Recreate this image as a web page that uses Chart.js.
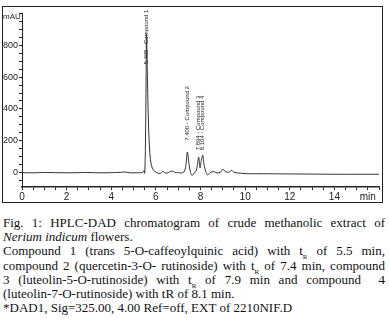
<!DOCTYPE html>
<html>
<head>
<meta charset="utf-8">
<script src="https://cdn.jsdelivr.net/npm/chart.js@4/dist/chart.umd.min.js"></script>
<style>
	body { margin: 0; background: #fff; width: 389px; height: 331px; overflow: hidden; }
	#box { position: absolute; left: 2px; top: 6px; width: 379px; height: 195px; border: 1px solid #222; }
	#wrap { position: absolute; left: -2px; top: 0; width: 381px; height: 195px; }
	#caption { position: absolute; left: 3px; top: 216px; width: 382px; font-family: "Liberation Serif", serif; font-size: 13px; line-height: 14.2px; color: #111; }
	#caption .full { text-align: justify; text-align-last: justify; }
	sub { font-size: 7px; line-height: 0; }
</style>
</head>
<body>
<div id="box"><div id="wrap"><canvas id="chart"></canvas></div></div>
<div id="caption">
	<div class="full">Fig. 1: HPLC-DAD chromatogram of crude methanolic extract of</div>
	<div><i>Nerium indicum</i> flowers.</div>
	<div class="full">Compound 1 (trans 5-O-caffeoylquinic acid) with t<sub>R</sub> of 5.5 min,</div>
	<div class="full">compound 2 (quercetin-3-O- rutinoside) with t<sub>R</sub> of 7.4 min, compound</div>
	<div class="full">3 (luteolin-5-O-rutinoside) with t<sub>R</sub> of 7.9 min and compound &nbsp;4</div>
	<div>(luteolin-7-O-rutinoside) with tR of 8.1 min.</div>
	<div>*DAD1, Sig=325.00, 4.00 Ref=off, EXT of 2210NIF.D</div>
</div>
<script>
// === Data ===

const times = [0, 0.5, 1, 1.5, 2, 2.5, 3, 3.5, 4, 4.4, 4.6, 4.8, 5.0, 5.3, 5.42, 5.47, 5.5,
	5.53, 5.56, 5.58, 5.62, 5.67, 5.73, 5.8, 5.9, 6.0, 6.1, 6.2, 6.3, 6.4, 6.5, 6.6, 6.75, 6.85,
	7.0, 7.15, 7.25, 7.33, 7.41, 7.48, 7.55, 7.62, 7.7, 7.8, 7.86, 7.92, 7.98, 8.03, 8.1, 8.17,
	8.25, 8.32, 8.45, 8.6, 8.75, 8.9, 9.0, 9.1, 9.25, 9.4, 9.5, 9.7, 10, 11, 12, 13, 14, 15, 16];
const mau = [0, -1, 1, 0, -1, 0, 1, -1, 0, 2, 4, 0, -1, 0, 3, 14, -4,
	150, 560, 870, 600, 300, 120, 45, 14, 4, -4, -6, 8, 0, -3, 4, 10, 2,
	0, -2, 4, 30, 130, 60, 2, -18, -4, 8, 50, 98, 30, 70, 110, 40,
	2, -14, 2, 6, -2, 4, 22, 8, 2, 14, 2, -2, -6, -7, -8, -9, -10, -10, -10];

const peakNames = ['5.495 - Compound 1', '7.400 - Compound 2', '7.894 - Compound 3', '8.104 - Compound 4'];
const peakTimes = [5.58, 7.41, 7.92, 8.1];
const peakLabelBase = [680, 200, 140, 140];

const yUnit = 'mAU';
const yUnitAt = 980;
const yTickLabels = { 0: '0', 200: '200', 400: '400', 600: '600', 800: '800' };
const xTickLabels = { 0: '0', 2: '2', 4: '4', 6: '6', 8: '8', 10: '10', 12: '12', 14: '14', 15.5: 'min' };


// === Peak labels ===

const peakLabelPlugin = {
	id: 'peakLabels',
	afterDatasetsDraw(chart) {
		const ctx = chart.ctx;
		const xs = chart.scales.x;
		const ys = chart.scales.y;
		ctx.save();
		ctx.fillStyle = '#222';
		ctx.font = '6px "Liberation Sans", sans-serif';
		ctx.textAlign = 'left';
		ctx.textBaseline = 'middle';
		peakNames.forEach((name, i) => {
			ctx.save();
			ctx.translate(xs.getPixelForValue(peakTimes[i]), ys.getPixelForValue(peakLabelBase[i]));
			ctx.rotate(-Math.PI / 2);
			ctx.fillText(name, 0, 0);
			ctx.restore();
		});
		// unit label at the top of the y axis
		ctx.font = '8px "Liberation Sans", sans-serif';
		ctx.fillText(yUnit, ys.left + 2, ys.getPixelForValue(yUnitAt));
		ctx.restore();
	}
};


// === Chart ===

new Chart(document.getElementById('chart'), {
	type: 'line',
	data: {
		datasets: [{
			data: times.map((t, i) => ({ x: t, y: mau[i] })),
			borderColor: '#333',
			borderWidth: 1,
			pointRadius: 0,
			tension: 0.3,
			fill: false
		}]
	},
	options: {
		responsive: true,
		maintainAspectRatio: false,
		animation: false,
		layout: { padding: { top: 4, right: 3, left: 0, bottom: 0 } },
		plugins: { legend: { display: false }, tooltip: { enabled: false } },
		scales: {
			x: {
				type: 'linear',
				min: 0,
				max: 16,
				afterBuildTicks: scale => {
					const ticks = [];
					for (let v = 0; v <= 16; v += 0.5) ticks.push({ value: v });
					scale.ticks = ticks;
				},
				afterFit: scale => { scale.height = 15; },
				ticks: {
					autoSkip: false,
					maxRotation: 0,
					padding: 1,
					color: '#222',
					font: { family: '"Liberation Sans", sans-serif', size: 10 },
					callback: v => xTickLabels[v] !== undefined ? xTickLabels[v] : ''
				},
				grid: { drawOnChartArea: false, tickLength: 3, color: '#222' },
				border: { color: '#222', width: 1.5 }
			},
			y: {
				min: -90,
				max: 1000,
				afterBuildTicks: scale => {
					const ticks = [];
					for (let v = -50; v <= 1000; v += 50) ticks.push({ value: v });
					scale.ticks = ticks;
				},
				afterFit: scale => { scale.width = 21; },
				ticks: {
					autoSkip: false,
					padding: 1,
					color: '#222',
					font: { family: '"Liberation Sans", sans-serif', size: 9 },
					callback: v => yTickLabels[v] !== undefined ? yTickLabels[v] : ''
				},
				grid: { drawOnChartArea: false, tickLength: 3, color: '#222' },
				border: { color: '#222', width: 1 }
			}
		}
	},
	plugins: [peakLabelPlugin]
});
</script>
</body>
</html>
